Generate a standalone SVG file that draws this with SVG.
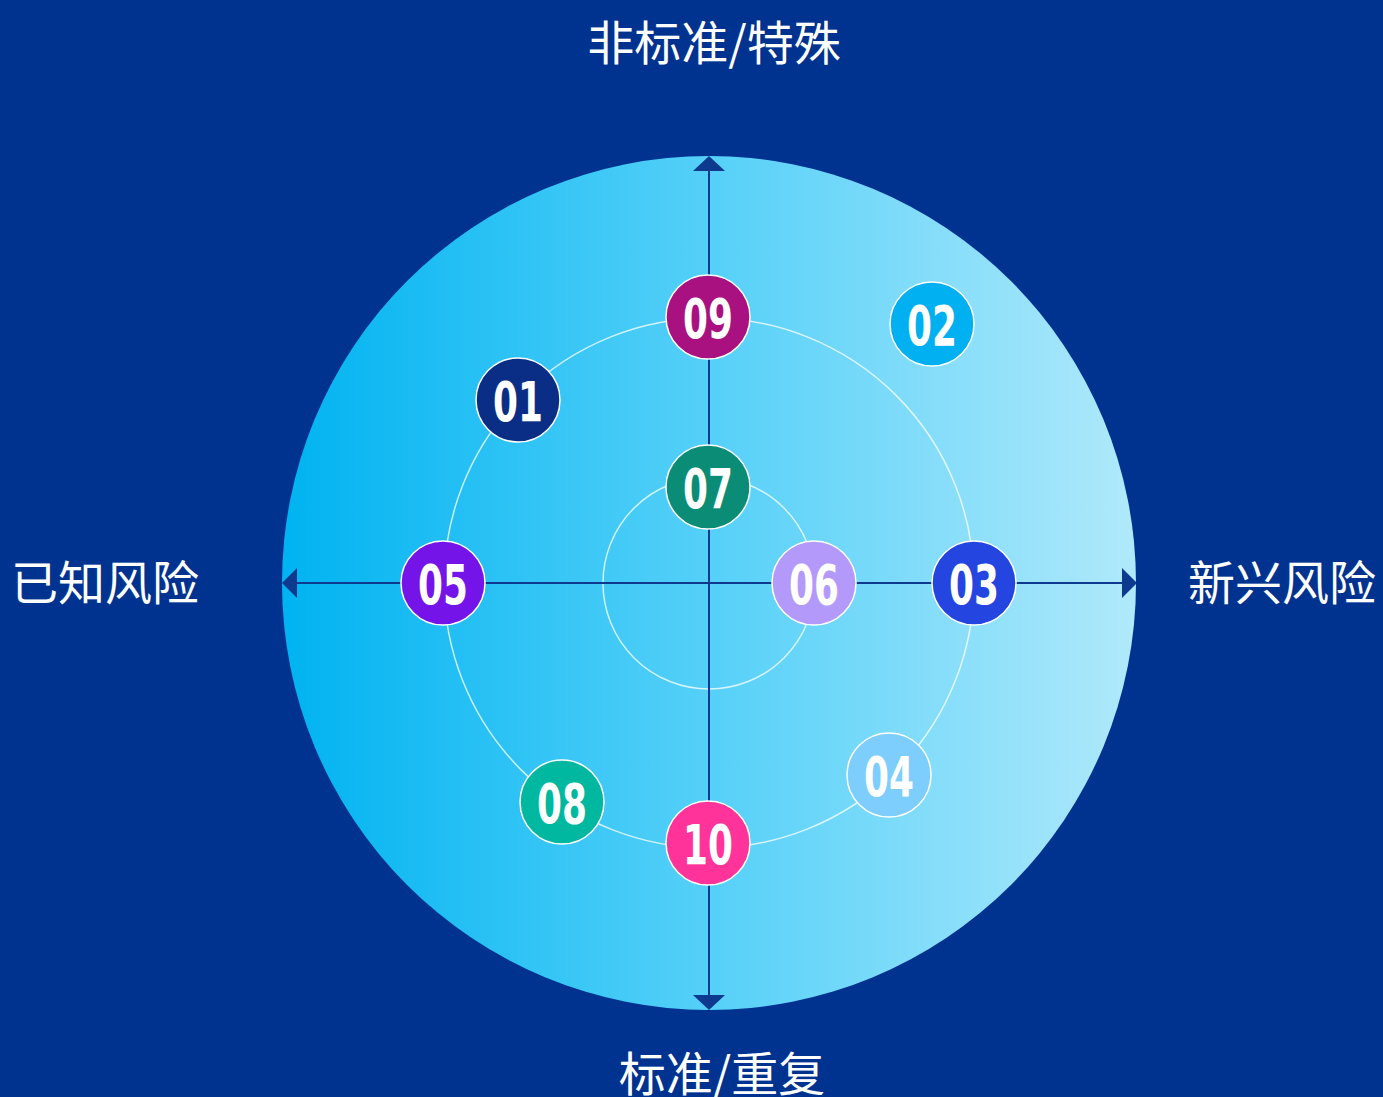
<svg xmlns="http://www.w3.org/2000/svg" width="1383" height="1097" viewBox="0 0 1383 1097">
<defs>
<linearGradient id="g" x1="0" y1="0" x2="1" y2="0">
<stop offset="0" stop-color="#00b3f1"/>
<stop offset="0.5" stop-color="#55d0f8"/>
<stop offset="1" stop-color="#b0e9fb"/>
</linearGradient>
</defs>
<style>
.lbl{font-family:"Noto Sans CJK SC","Noto Sans CJK JP",sans-serif;font-size:47px;fill:#fff}
.ring{fill:none;stroke:#fff;stroke-opacity:0.75;stroke-width:1.5}
.ax{stroke:#0d3a8f;stroke-width:2}
.ah{fill:#0d3a8f}
.node circle{stroke:#fff;stroke-width:1.5}
.num{font-family:"DejaVu Sans",sans-serif;font-weight:bold;font-size:56px;fill:#fff;text-anchor:middle}
</style>
<rect width="1383" height="1097" fill="#00338f"/>
<g id="disc">
<circle cx="709" cy="583" r="427" fill="url(#g)"/>
<circle class="ring" cx="709" cy="583" r="265"/>
<circle class="ring" cx="709" cy="583" r="106"/>
</g>
<g id="connectors">
<line class="ax" x1="295" y1="583" x2="1124" y2="583"/>
<line class="ax" x1="709" y1="170" x2="709" y2="996"/>
<polygon class="ah" points="709,156 693,171 725,171"/>
<polygon class="ah" points="709,1010 693,995 725,995"/>
<polygon class="ah" points="282,583 297,568 297,598"/>
<polygon class="ah" points="1137,583 1122,568 1122,598"/>
</g>
<g id="label-top"><text class="lbl" x="714" y="60" text-anchor="middle">非标准/特殊</text></g>
<g id="label-bottom"><text class="lbl" x="722" y="1091" text-anchor="middle">标准/重复</text></g>
<g id="label-left"><text class="lbl" x="105" y="600" text-anchor="middle">已知风险</text></g>
<g id="label-right"><text class="lbl" x="1282" y="600" text-anchor="middle">新兴风险</text></g>
<g id="n09" class="node"><circle cx="708" cy="317" r="42" fill="#a8117f"/><text class="num" transform="translate(708,338) scale(0.64,1)">09</text></g>
<g id="n02" class="node"><circle cx="932" cy="324" r="42" fill="#00b0f0"/><text class="num" transform="translate(932,345) scale(0.64,1)">02</text></g>
<g id="n01" class="node"><circle cx="518" cy="400" r="42" fill="#0a2e86"/><text class="num" transform="translate(518,421) scale(0.64,1)">01</text></g>
<g id="n07" class="node"><circle cx="708" cy="487" r="42" fill="#0b8c76"/><text class="num" transform="translate(708,508) scale(0.64,1)">07</text></g>
<g id="n05" class="node"><circle cx="443" cy="583" r="42" fill="#7414e8"/><text class="num" transform="translate(443,604) scale(0.64,1)">05</text></g>
<g id="n06" class="node"><circle cx="814" cy="583" r="42" fill="#b39afa"/><text class="num" transform="translate(814,604) scale(0.64,1)">06</text></g>
<g id="n03" class="node"><circle cx="974" cy="583" r="42" fill="#2445e0"/><text class="num" transform="translate(974,604) scale(0.64,1)">03</text></g>
<g id="n04" class="node"><circle cx="889" cy="775" r="42" fill="#7dcdfd"/><text class="num" transform="translate(889,796) scale(0.64,1)">04</text></g>
<g id="n08" class="node"><circle cx="562" cy="802" r="42" fill="#00b8a0"/><text class="num" transform="translate(562,823) scale(0.64,1)">08</text></g>
<g id="n10" class="node"><circle cx="708" cy="843" r="42" fill="#ff3399"/><text class="num" transform="translate(708,864) scale(0.64,1)">10</text></g>
</svg>
